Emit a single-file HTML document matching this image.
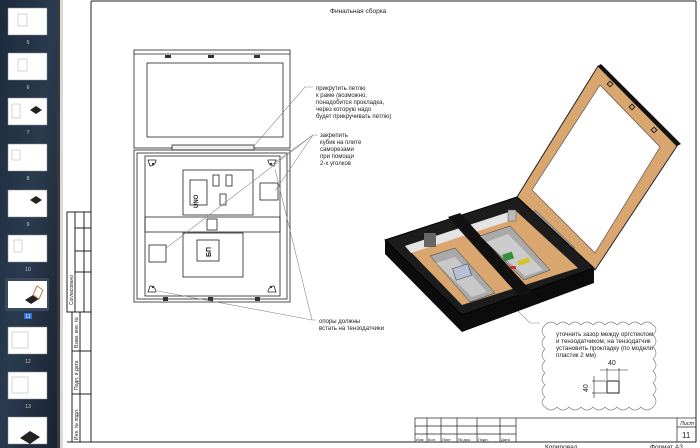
<!DOCTYPE html>
<html><head><meta charset="utf-8"><style>
html,body{margin:0;padding:0;width:700px;height:448px;overflow:hidden;background:#fff}
svg{display:block}
text{font-family:"Liberation Sans",sans-serif}
</style></head><body>
<svg width="700" height="448" viewBox="0 0 700 448" xmlns="http://www.w3.org/2000/svg">
<defs>
<linearGradient id="sb" x1="0" y1="0" x2="1" y2="1">
<stop offset="0" stop-color="#1d2a3c"/><stop offset="0.5" stop-color="#2a3b4f"/><stop offset="1" stop-color="#1a2230"/>
</linearGradient>
</defs>
<rect x="0" y="0" width="57" height="448" fill="url(#sb)"/>
<rect x="57" y="0" width="3" height="448" fill="#3a3a3a"/>
<rect x="60" y="0" width="3" height="448" fill="#d8d8d8"/>
<g fill="#fff" stroke="#888" stroke-width="0.5">
<rect x="8" y="8" width="39" height="27"/>
<rect x="8" y="53" width="39" height="27"/>
<rect x="8" y="98" width="39" height="27"/>
<rect x="8" y="144" width="39" height="27"/>
<rect x="8" y="190" width="39" height="27"/>
<rect x="8" y="235" width="39" height="27"/>
<rect x="8" y="327" width="39" height="27"/>
<rect x="8" y="372" width="39" height="27"/>
<rect x="8" y="417" width="39" height="27"/>
</g>
<g fill="none" stroke="#999" stroke-width="0.4">
<rect x="18" y="14" width="9" height="12"/><rect x="18" y="59" width="9" height="12"/><rect x="12" y="104" width="8" height="14"/><rect x="12" y="150" width="8" height="10"/><rect x="14" y="240" width="8" height="12"/><rect x="12" y="332" width="16" height="16"/><rect x="12" y="377" width="16" height="16"/>
</g>
<path d="M30 110 l6 -4 l6 4 l-6 4z M30 200 l6 -4 l6 4 l-6 4z" fill="#222"/>
<rect x="5" y="278" width="44" height="33" fill="#3a4a5c" rx="2"/>
<rect x="8" y="281" width="39" height="27" fill="#fff"/>
<path d="M25 300 l8 -5 l6 4 l-8 5z" fill="#222"/><path d="M33 295 l4 -9 l6 4 l-4 9z" fill="none" stroke="#b7814d"/>
<path d="M20 438 l10 -7 l10 6 l-10 7z" fill="#222"/>
<rect x="24" y="313" width="8" height="6" fill="#2f6fdf"/>
<g fill="#ccc" font-size="5" text-anchor="middle">
<text x="28" y="44">5</text><text x="28" y="89">6</text><text x="28" y="134">7</text><text x="28" y="180">8</text><text x="28" y="226">9</text><text x="28" y="271">10</text><text x="28" y="318" fill="#fff">11</text><text x="28" y="363">12</text><text x="28" y="408">13</text>
</g>
<g fill="none" stroke="#222" stroke-width="1">
<line x1="91" y1="1" x2="696" y2="1"/>
<line x1="91" y1="1" x2="91" y2="442"/>
<line x1="696" y1="1" x2="696" y2="442"/>
<line x1="67" y1="442" x2="696" y2="442"/>
<rect x="67" y="212" width="24" height="100"/>
<line x1="75" y1="212" x2="75" y2="312"/><line x1="84" y1="212" x2="84" y2="312"/>
<line x1="75" y1="228" x2="91" y2="228"/><line x1="75" y1="251" x2="91" y2="251"/><line x1="75" y1="272" x2="91" y2="272"/>
<rect x="72" y="312" width="19" height="130"/>
<line x1="80" y1="312" x2="80" y2="442"/>
<line x1="72" y1="351" x2="91" y2="351"/><line x1="72" y1="394" x2="91" y2="394"/>
</g>
<g font-size="5" fill="#222">
<text transform="translate(73,305) rotate(-90)">Согласовано</text>
<text transform="translate(78,348) rotate(-90)">Взам. инв. №</text>
<text transform="translate(78,390) rotate(-90)">Подп. и дата</text>
<text transform="translate(78,440) rotate(-90)">Инв. № подл.</text>
</g>
<text x="330" y="13" font-size="6.5" fill="#222">Финальная сборка</text>
<g fill="none" stroke="#222" stroke-width="0.8">
<rect x="134" y="50" width="156" height="98"/>
<line x1="134" y1="54" x2="290" y2="54"/>
<rect x="147" y="63" width="136" height="74"/>
<rect x="172" y="145" width="82" height="5" fill="#eee"/>
<rect x="134" y="150" width="156" height="152"/>
<rect x="137" y="153" width="150" height="146"/>
<rect x="145" y="156" width="135" height="140"/>
<rect x="145" y="217" width="135" height="15"/>
<rect x="183" y="170" width="70" height="45"/>
<rect x="190" y="180" width="17" height="25"/>
<rect x="213" y="175" width="6" height="11"/><rect x="226" y="175" width="6" height="11"/><rect x="220" y="194" width="6" height="11"/>
<rect x="183" y="233" width="60" height="44"/>
<rect x="197" y="240" width="22" height="21"/>
<rect x="207" y="219" width="10" height="11"/>
<rect x="260" y="183" width="18" height="17"/>
<rect x="149" y="245" width="17" height="17"/>
<path d="M148 160 h8 a6 6 0 0 1 -6 6 z"/><path d="M276 160 h-8 a6 6 0 0 0 6 6z"/><path d="M148 292 h8 a6 6 0 0 0 -6 -6z"/><path d="M276 292 h-8 a6 6 0 0 1 6 -6z"/>
</g>
<g fill="#333">
<rect x="165" y="55" width="6" height="3"/><rect x="208" y="55" width="6" height="3"/><rect x="254" y="55" width="6" height="3"/>
<rect x="163" y="297" width="5" height="4"/><rect x="208" y="297" width="5" height="4"/><rect x="255" y="297" width="5" height="4"/>
<circle cx="153" cy="164" r="1.2"/><circle cx="271" cy="164" r="1.2"/><circle cx="153" cy="287" r="1.2"/><circle cx="271" cy="287" r="1.2"/>
</g>
<text transform="translate(198,208) rotate(-90)" font-size="6" font-weight="bold" fill="#222">UNO</text>
<text transform="translate(211,257) rotate(-90)" font-size="7" font-weight="bold" fill="#222">БП</text>
<g stroke="#888" stroke-width="0.6" fill="none">
<path d="M313 87 L305 87 L253 147"/>
<path d="M318 135 L313 135 L270 166"/>
<path d="M313 135 L165 249"/>
<path d="M313 135 L275 191"/>
<path d="M316 320 L312 320 L275 169"/>
<path d="M312 320 L158 291"/>
<path d="M540 323 L530 323 L507 300"/>
</g>
<g font-size="6" fill="#222">
<text x="316" y="90">прикрутить петлю</text><text x="316" y="97">к раме (возможно,</text><text x="316" y="104">понадобится прокладка,</text><text x="316" y="111">через которую надо</text><text x="316" y="118">будет прикручивать петлю)</text>
<text x="320" y="137">закрепить</text><text x="320" y="144">кубик на плите</text><text x="320" y="151">саморезами</text><text x="320" y="158">при помощи</text><text x="320" y="165">2-х уголков</text>
<text x="319" y="323">опоры должны</text><text x="319" y="330">встать на тензодатчики</text>
</g>
<!-- iso lid -->
<polygon points="517,197 598,66 677,146 595,270" fill="#d9a66f" stroke="#222"/>
<polygon points="598,66 601,64 681,144 677,146" fill="#111"/>
<polygon points="532,190 600,85 660,147 595,253" fill="#fff" stroke="#444" stroke-width="0.6"/>
<g fill="none" stroke="#222" stroke-width="1"><rect x="608" y="82" width="4" height="4" transform="rotate(45 610 84)"/><rect x="630" y="105" width="4" height="4" transform="rotate(45 632 107)"/><rect x="652" y="128" width="4" height="4" transform="rotate(45 654 130)"/></g>
<polygon points="535,210 575,248 570,253 532,215" fill="#999" stroke="#444" stroke-width="0.5"/>
<!-- iso base -->
<polygon points="385,240 517,197 594,268 594,283 462,332 385,254" fill="#0c0c0c"/>
<polygon points="385,240 517,197 594,268 462,315" fill="#1c1c1c" stroke="#000"/>
<polygon points="405,246 515,210 578,268 462,305" fill="#d9a66f"/>
<polygon points="405,246 515,210 515,219 411,253" fill="#e4e4e4"/>
<polygon points="448,217 460,213 532,292 520,297" fill="#111"/>
<polygon points="430,256 455,248 495,293 470,302" fill="#a9a9a9" stroke="#333" stroke-width="0.5"/>
<polygon points="436,263 455,257 487,292 472,297" fill="#c8c8c8"/>
<rect x="454" y="266" width="16" height="12" fill="#b7bfd6" stroke="#333" stroke-width="0.5" transform="rotate(-18 462 272)"/>
<polygon points="480,236 510,226 550,270 524,280" fill="#a9a9a9" stroke="#333" stroke-width="0.5"/>
<polygon points="486,242 508,234 543,270 525,276" fill="#ccc"/>
<rect x="503" y="253" width="10" height="7" fill="#3a8d3a" transform="rotate(-18 508 256)"/>
<rect x="518" y="259" width="12" height="5" fill="#d8c22a" transform="rotate(-18 524 262)"/>
<rect x="510" y="266" width="6" height="3" fill="#c33"/>
<rect x="424" y="233" width="12" height="14" fill="#666"/>
<rect x="508" y="210" width="8" height="11" fill="#bbb" stroke="#555" stroke-width="0.5"/>
<!-- cloud -->
<path d="M545 325 q6 -6 12 0 q6 -6 12 0 q6 -6 12 0 q6 -6 12 0 q6 -6 12 0 q6 -6 12 0 q6 -6 12 0 q6 -6 12 0 q6 -6 12 0 q6 4 0 10 q6 6 0 12 q6 6 0 12 q6 6 0 12 q6 6 0 12 q6 6 0 12 q6 6 0 12 q-6 6 -12 0 q-6 6 -12 0 q-6 6 -12 0 q-6 6 -12 0 q-6 6 -12 0 q-6 6 -12 0 q-6 6 -12 0 q-6 6 -12 0 q-6 6 -12 0 q-6 -4 0 -10 q-6 -6 0 -12 q-6 -6 0 -12 q-6 -6 0 -12 q-6 -6 0 -12 q-6 -6 0 -12 q-6 -6 0 -12 z" fill="none" stroke="#777" stroke-width="0.6"/>
<g font-size="6.2" fill="#222">
<text x="556" y="336">уточнить зазор между оргстеклом</text><text x="556" y="343">и тензодатчиком, на тензодатчик</text><text x="556" y="350">установить прокладку (по модели</text><text x="556" y="357">пластик 2 мм)</text>
<text x="608" y="365" font-size="7">40</text>
<text transform="translate(588,392) rotate(-90)" font-size="7">40</text>
</g>
<g stroke="#222" stroke-width="0.6" fill="none">
<rect x="607" y="381" width="12" height="12" stroke-width="1"/>
<line x1="607" y1="368" x2="607" y2="380"/><line x1="619" y1="368" x2="619" y2="380"/><line x1="600" y1="370" x2="628" y2="370"/>
<line x1="592" y1="381" x2="606" y2="381"/><line x1="592" y1="393" x2="606" y2="393"/><line x1="594" y1="376" x2="594" y2="398"/>
</g>
<g stroke="#222" stroke-width="0.7" fill="none">
<rect x="415" y="418" width="281" height="24"/>
<line x1="427" y1="418" x2="427" y2="442"/><line x1="441" y1="418" x2="441" y2="442"/><line x1="457" y1="418" x2="457" y2="442"/><line x1="477" y1="418" x2="477" y2="442"/><line x1="500" y1="418" x2="500" y2="442"/><line x1="516" y1="418" x2="516" y2="442"/><line x1="677" y1="418" x2="677" y2="442"/>
<line x1="415" y1="426" x2="516" y2="426"/><line x1="415" y1="434" x2="516" y2="434"/><line x1="677" y1="427" x2="696" y2="427"/>
</g>
<g font-size="4" fill="#222"><text x="416" y="441">Изм</text><text x="428" y="441">Кол.</text><text x="442" y="441">Лист</text><text x="458" y="441">№ док.</text><text x="478" y="441">Подп.</text><text x="501" y="441">Дата</text></g>
<text x="680" y="425" font-size="5.5" font-style="italic" fill="#222">Лист</text>
<text x="682" y="438" font-size="8" fill="#222">11</text>
<text x="545" y="449" font-size="6.5" fill="#222">Копировал</text>
<text x="650" y="449" font-size="6.5" fill="#222">Формат А3</text>
</svg>
</body></html>
